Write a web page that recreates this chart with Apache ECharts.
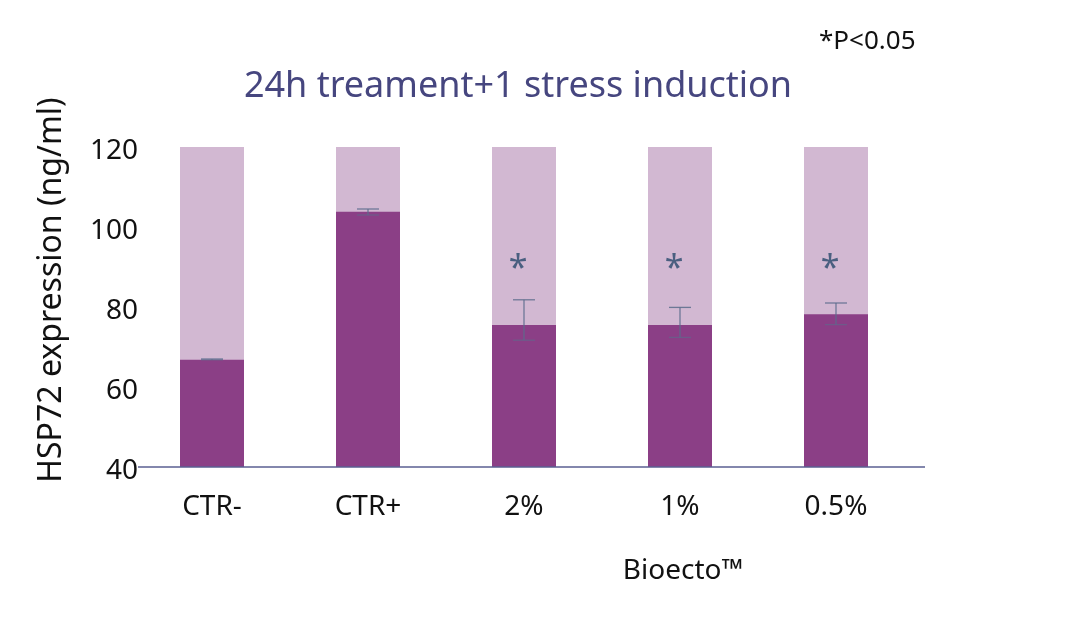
<!DOCTYPE html>
<html><head><meta charset="utf-8">
<script src="https://cdn.jsdelivr.net/npm/echarts@6/dist/echarts.min.js"></script>
<style>html,body{margin:0;padding:0;background:#fff}#c{width:1080px;height:640px}</style>
</head><body><div id="c"></div>
<script>
var categories = ['CTR-', 'CTR+', '2%', '1%', '0.5%'];
var means = [66.8, 103.8, 75.5, 75.5, 78.2];
var errLow = [66.8, 103.0, 71.7, 72.4, 75.6];
var errHigh = [67.0, 104.5, 81.8, 79.9, 81.0];
var significant = [false, false, true, true, true];
var sigLevel = 91.8;
var yTicks = [40, 60, 80, 100, 120];

var font = "'Noto Sans', 'Open Sans', sans-serif";
var chart = echarts.init(document.getElementById('c'));
var errData = categories.map(function (c, i) { return [i, errLow[i], errHigh[i]]; });
var sigData = [];
categories.forEach(function (c, i) { if (significant[i]) sigData.push([i, sigLevel]); });

chart.setOption({
  animation: false,
  backgroundColor: '#ffffff',
  title: [{
    text: '24h treament+1 stress induction',
    left: 513, top: 64, textAlign: 'center',
    textStyle: { fontFamily: font, fontSize: 36, fontWeight: 'normal', color: '#46467f' }
  }, {
    text: '*P<0.05',
    left: 814, top: 24,
    textStyle: { fontFamily: font, fontSize: 26, fontWeight: 'normal', color: '#111' }
  }, {
    text: 'Bioecto™',
    left: 678, top: 552, textAlign: 'center',
    textStyle: { fontFamily: font, fontSize: 28, fontWeight: 'normal', color: '#111' }
  }],
  grid: { left: 134, right: 166, top: 147, bottom: 173 },
  xAxis: {
    type: 'category', data: categories,
    axisLine: { show: false }, axisTick: { show: false },
    axisLabel: { fontFamily: font, fontSize: 28, color: '#111', margin: 26 }
  },
  yAxis: {
    type: 'value', min: 40, max: 120, interval: 20,
    axisLine: { show: false }, axisTick: { show: false }, splitLine: { show: false },
    axisLabel: {
      margin: -4,
      formatter: function (v) { return yTicks.indexOf(v) >= 0 ? '{v|' + v + '}' : ''; },
      rich: { v: { fontFamily: font, fontSize: 28, color: '#111', padding: [8, 0, 0, 0] } }
    }
  },
  graphic: [{
    type: 'line', shape: { x1: 138, y1: 467, x2: 925, y2: 467 },
    style: { stroke: '#5a5f92', lineWidth: 1.5 }, z: 10
  }, {
    type: 'text', x: 52, y: 290, rotation: Math.PI / 2,
    style: { text: 'HSP72 expression (ng/ml)', fontFamily: font, fontSize: 32, fill: '#111', align: 'center', verticalAlign: 'middle' }
  }],
  series: [{
    type: 'bar', data: means, barWidth: 64,
    itemStyle: { color: '#8b3f86' },
    showBackground: true, backgroundStyle: { color: '#d2b8d2' }
  }, {
    type: 'custom', data: errData, z: 5,
    renderItem: function (params, api) {
      var x = api.value(0);
      var lo = api.coord([x, api.value(1)]);
      var hi = api.coord([x, api.value(2)]);
      var hw = 11;
      return {
        type: 'group', children: [
          { type: 'line', shape: { x1: hi[0], y1: hi[1], x2: lo[0], y2: lo[1] }, style: { stroke: '#5c6c8c', lineWidth: 1.3, opacity: 0.85 } },
          { type: 'line', shape: { x1: hi[0] - hw, y1: hi[1], x2: hi[0] + hw, y2: hi[1] }, style: { stroke: '#5c6c8c', lineWidth: 1.3, opacity: 0.85 } },
          { type: 'line', shape: { x1: lo[0] - hw, y1: lo[1], x2: lo[0] + hw, y2: lo[1] }, style: { stroke: '#5c6c8c', lineWidth: 1.3, opacity: 0.6 } }
        ]
      };
    }
  }, {
    type: 'scatter', data: sigData, symbolSize: 1, itemStyle: { opacity: 0 },
    label: { show: true, position: 'inside', offset: [-6, 10], formatter: '*', fontFamily: font, fontSize: 34, color: '#4a5f80', opacity: 1 }
  }]
});
</script></body></html>
